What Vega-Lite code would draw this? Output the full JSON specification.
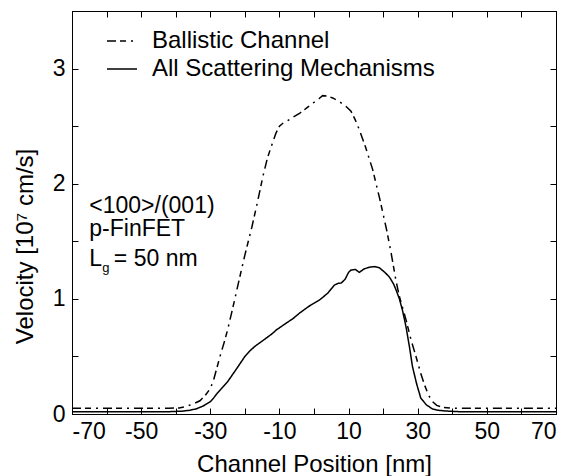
{
  "$schema": "https://vega.github.io/schema/vega-lite/v6.json",
  "width": 484,
  "height": 403,
  "autosize": "none",
  "padding": {"left": 72, "top": 11, "right": 13, "bottom": 62},
  "background": "white",
  "config": {
    "view": {"stroke": "black", "strokeWidth": 1},
    "font": "Liberation Sans",
    "axis": {
      "domainColor": "black",
      "domainWidth": 1,
      "tickColor": "black",
      "tickWidth": 1,
      "grid": false,
      "labelFont": "Liberation Sans",
      "labelFontSize": 23,
      "labelColor": "black",
      "titleFont": "Liberation Sans",
      "titleFontSize": 24,
      "titleFontWeight": "normal",
      "titleColor": "black"
    }
  },
  "datasets": {
    "curves": [
      {"x": -70, "v": 0.05, "s": "Ballistic Channel"},
      {"x": -60, "v": 0.05, "s": "Ballistic Channel"},
      {"x": -50, "v": 0.05, "s": "Ballistic Channel"},
      {"x": -42, "v": 0.05, "s": "Ballistic Channel"},
      {"x": -39, "v": 0.053, "s": "Ballistic Channel"},
      {"x": -37, "v": 0.065, "s": "Ballistic Channel"},
      {"x": -35, "v": 0.087, "s": "Ballistic Channel"},
      {"x": -33, "v": 0.115, "s": "Ballistic Channel"},
      {"x": -31.5, "v": 0.16, "s": "Ballistic Channel"},
      {"x": -30, "v": 0.22, "s": "Ballistic Channel"},
      {"x": -29, "v": 0.3, "s": "Ballistic Channel"},
      {"x": -28, "v": 0.41, "s": "Ballistic Channel"},
      {"x": -27, "v": 0.52, "s": "Ballistic Channel"},
      {"x": -26, "v": 0.62, "s": "Ballistic Channel"},
      {"x": -25, "v": 0.73, "s": "Ballistic Channel"},
      {"x": -23.5, "v": 0.92, "s": "Ballistic Channel"},
      {"x": -22, "v": 1.12, "s": "Ballistic Channel"},
      {"x": -20, "v": 1.38, "s": "Ballistic Channel"},
      {"x": -18, "v": 1.62, "s": "Ballistic Channel"},
      {"x": -16.5, "v": 1.82, "s": "Ballistic Channel"},
      {"x": -14.8, "v": 2.06, "s": "Ballistic Channel"},
      {"x": -13.5, "v": 2.22, "s": "Ballistic Channel"},
      {"x": -12.4, "v": 2.32, "s": "Ballistic Channel"},
      {"x": -11, "v": 2.44, "s": "Ballistic Channel"},
      {"x": -10, "v": 2.5, "s": "Ballistic Channel"},
      {"x": -9, "v": 2.525, "s": "Ballistic Channel"},
      {"x": -8, "v": 2.54, "s": "Ballistic Channel"},
      {"x": -6, "v": 2.58, "s": "Ballistic Channel"},
      {"x": -4.2, "v": 2.61, "s": "Ballistic Channel"},
      {"x": -2, "v": 2.66, "s": "Ballistic Channel"},
      {"x": -0.3, "v": 2.7, "s": "Ballistic Channel"},
      {"x": 1.5, "v": 2.74, "s": "Ballistic Channel"},
      {"x": 2.5, "v": 2.765, "s": "Ballistic Channel"},
      {"x": 4, "v": 2.76, "s": "Ballistic Channel"},
      {"x": 5.4, "v": 2.745, "s": "Ballistic Channel"},
      {"x": 7.5, "v": 2.71, "s": "Ballistic Channel"},
      {"x": 9.3, "v": 2.67, "s": "Ballistic Channel"},
      {"x": 10.7, "v": 2.63, "s": "Ballistic Channel"},
      {"x": 12, "v": 2.55, "s": "Ballistic Channel"},
      {"x": 13.1, "v": 2.47, "s": "Ballistic Channel"},
      {"x": 15, "v": 2.31, "s": "Ballistic Channel"},
      {"x": 17, "v": 2.12, "s": "Ballistic Channel"},
      {"x": 19, "v": 1.87, "s": "Ballistic Channel"},
      {"x": 21, "v": 1.6, "s": "Ballistic Channel"},
      {"x": 22.3, "v": 1.4, "s": "Ballistic Channel"},
      {"x": 23.7, "v": 1.16, "s": "Ballistic Channel"},
      {"x": 24.7, "v": 1.02, "s": "Ballistic Channel"},
      {"x": 26.6, "v": 0.82, "s": "Ballistic Channel"},
      {"x": 28.1, "v": 0.64, "s": "Ballistic Channel"},
      {"x": 29.5, "v": 0.5, "s": "Ballistic Channel"},
      {"x": 31, "v": 0.34, "s": "Ballistic Channel"},
      {"x": 32, "v": 0.25, "s": "Ballistic Channel"},
      {"x": 33.2, "v": 0.16, "s": "Ballistic Channel"},
      {"x": 34.3, "v": 0.107, "s": "Ballistic Channel"},
      {"x": 35.5, "v": 0.075, "s": "Ballistic Channel"},
      {"x": 37.2, "v": 0.058, "s": "Ballistic Channel"},
      {"x": 40, "v": 0.05, "s": "Ballistic Channel"},
      {"x": 50, "v": 0.05, "s": "Ballistic Channel"},
      {"x": 60, "v": 0.05, "s": "Ballistic Channel"},
      {"x": 70, "v": 0.05, "s": "Ballistic Channel"},
      {"x": -70, "v": 0.02, "s": "All Scattering Mechanisms"},
      {"x": -60, "v": 0.02, "s": "All Scattering Mechanisms"},
      {"x": -50, "v": 0.02, "s": "All Scattering Mechanisms"},
      {"x": -42, "v": 0.02, "s": "All Scattering Mechanisms"},
      {"x": -38, "v": 0.025, "s": "All Scattering Mechanisms"},
      {"x": -36, "v": 0.032, "s": "All Scattering Mechanisms"},
      {"x": -34, "v": 0.045, "s": "All Scattering Mechanisms"},
      {"x": -32, "v": 0.07, "s": "All Scattering Mechanisms"},
      {"x": -30, "v": 0.107, "s": "All Scattering Mechanisms"},
      {"x": -29, "v": 0.14, "s": "All Scattering Mechanisms"},
      {"x": -28, "v": 0.18, "s": "All Scattering Mechanisms"},
      {"x": -26.5, "v": 0.23, "s": "All Scattering Mechanisms"},
      {"x": -25, "v": 0.28, "s": "All Scattering Mechanisms"},
      {"x": -23.5, "v": 0.345, "s": "All Scattering Mechanisms"},
      {"x": -22, "v": 0.41, "s": "All Scattering Mechanisms"},
      {"x": -20, "v": 0.5, "s": "All Scattering Mechanisms"},
      {"x": -18.5, "v": 0.55, "s": "All Scattering Mechanisms"},
      {"x": -17, "v": 0.59, "s": "All Scattering Mechanisms"},
      {"x": -15.7, "v": 0.618, "s": "All Scattering Mechanisms"},
      {"x": -14, "v": 0.655, "s": "All Scattering Mechanisms"},
      {"x": -12, "v": 0.7, "s": "All Scattering Mechanisms"},
      {"x": -10.9, "v": 0.73, "s": "All Scattering Mechanisms"},
      {"x": -8, "v": 0.79, "s": "All Scattering Mechanisms"},
      {"x": -6, "v": 0.83, "s": "All Scattering Mechanisms"},
      {"x": -4.2, "v": 0.876, "s": "All Scattering Mechanisms"},
      {"x": -1.5, "v": 0.935, "s": "All Scattering Mechanisms"},
      {"x": 1.6, "v": 0.99, "s": "All Scattering Mechanisms"},
      {"x": 4, "v": 1.05, "s": "All Scattering Mechanisms"},
      {"x": 5.9, "v": 1.12, "s": "All Scattering Mechanisms"},
      {"x": 7, "v": 1.135, "s": "All Scattering Mechanisms"},
      {"x": 7.85, "v": 1.137, "s": "All Scattering Mechanisms"},
      {"x": 9, "v": 1.17, "s": "All Scattering Mechanisms"},
      {"x": 10, "v": 1.23, "s": "All Scattering Mechanisms"},
      {"x": 10.7, "v": 1.25, "s": "All Scattering Mechanisms"},
      {"x": 12, "v": 1.255, "s": "All Scattering Mechanisms"},
      {"x": 13.1, "v": 1.23, "s": "All Scattering Mechanisms"},
      {"x": 14.5, "v": 1.26, "s": "All Scattering Mechanisms"},
      {"x": 16, "v": 1.275, "s": "All Scattering Mechanisms"},
      {"x": 17.5, "v": 1.28, "s": "All Scattering Mechanisms"},
      {"x": 18.9, "v": 1.27, "s": "All Scattering Mechanisms"},
      {"x": 20.5, "v": 1.23, "s": "All Scattering Mechanisms"},
      {"x": 21.8, "v": 1.19, "s": "All Scattering Mechanisms"},
      {"x": 23, "v": 1.13, "s": "All Scattering Mechanisms"},
      {"x": 23.7, "v": 1.08, "s": "All Scattering Mechanisms"},
      {"x": 24.7, "v": 1.0, "s": "All Scattering Mechanisms"},
      {"x": 25.6, "v": 0.9, "s": "All Scattering Mechanisms"},
      {"x": 26.6, "v": 0.76, "s": "All Scattering Mechanisms"},
      {"x": 27.6, "v": 0.585, "s": "All Scattering Mechanisms"},
      {"x": 28.5, "v": 0.41, "s": "All Scattering Mechanisms"},
      {"x": 29.7, "v": 0.26, "s": "All Scattering Mechanisms"},
      {"x": 30.9, "v": 0.137, "s": "All Scattering Mechanisms"},
      {"x": 32.5, "v": 0.08, "s": "All Scattering Mechanisms"},
      {"x": 34.3, "v": 0.043, "s": "All Scattering Mechanisms"},
      {"x": 36, "v": 0.032, "s": "All Scattering Mechanisms"},
      {"x": 38.2, "v": 0.026, "s": "All Scattering Mechanisms"},
      {"x": 42, "v": 0.02, "s": "All Scattering Mechanisms"},
      {"x": 50, "v": 0.02, "s": "All Scattering Mechanisms"},
      {"x": 60, "v": 0.02, "s": "All Scattering Mechanisms"},
      {"x": 70, "v": 0.02, "s": "All Scattering Mechanisms"}
    ],
    "ann": [
      {"x": -65, "v": 1.745, "t": "<100>/(001)"},
      {"x": -65, "v": 1.548, "t": "p-FinFET"},
      {"x": -65, "v": 1.287, "t": "L"},
      {"x": -57.9, "v": 1.287, "t": "= 50 nm"}
    ],
    "sub": [
      {"x": -61.25, "v": 1.235, "t": "g"}
    ]
  },
  "layer": [
    {
      "data": {"name": "curves"},
      "mark": {"type": "line", "stroke": "black", "strokeWidth": 1.5},
      "encoding": {
        "x": {
          "field": "x", "type": "quantitative",
          "scale": {"domain": [-70, 70], "nice": false, "zero": false},
          "axis": {
            "orient": "bottom",
            "values": [-70, -60, -50, -40, -30, -20, -10, 0, 10, 20, 30, 40, 50, 60, 70],
            "labelExpr": "datum.value % 20 != 0 ? '' + datum.value : ''",
            "tickSize": -6,
            "labelPadding": 12,
            "labelAngle": 0,
            "title": "Channel Position [nm]",
            "titleY": 57,
            "titleBaseline": "alphabetic"
          }
        },
        "y": {
          "field": "v", "type": "quantitative",
          "scale": {"domain": [0, 3.5], "nice": false, "zero": false},
          "axis": {
            "orient": "left",
            "values": [0, 0.5, 1, 1.5, 2, 2.5, 3, 3.5],
            "labelExpr": "datum.value % 1 == 0 && datum.value < 3.5 ? '' + datum.value : ''",
            "tickSize": -6,
            "labelPadding": 13,
            "title": "Velocity [10⁷ cm/s]",
            "titleX": -40,
            "titleY": 235,
            "titleAlign": "center",
            "titleBaseline": "alphabetic"
          }
        },
        "strokeDash": {
          "field": "s", "type": "nominal",
          "scale": {
            "domain": ["Ballistic Channel", "All Scattering Mechanisms"],
            "range": [[9, 4, 6, 5, 2, 5], [1, 0]]
          },
          "legend": {
            "orient": "none",
            "legendX": 34,
            "legendY": 14,
            "title": null,
            "symbolType": "stroke",
            "symbolSize": 900,
            "symbolStrokeWidth": 1.5,
            "symbolStrokeColor": "black",
            "labelFont": "Liberation Sans",
            "labelFontSize": 24,
            "labelColor": "black",
            "labelOffset": 14,
            "rowPadding": 0,
            "padding": 0,
            "labelLimit": 400
          }
        }
      }
    },
    {
      "data": {"name": "ann"},
      "mark": {"type": "text", "align": "left", "baseline": "alphabetic", "fontSize": 23, "font": "Liberation Sans", "color": "black"},
      "encoding": {
        "x": {
          "field": "x", "type": "quantitative",
          "scale": {"domain": [-70, 70], "nice": false, "zero": false},
          "axis": {
            "orient": "top",
            "values": [-70, -60, -50, -40, -30, -20, -10, 0, 10, 20, 30, 40, 50, 60, 70],
            "labels": false,
            "tickSize": -6,
            "title": null
          }
        },
        "y": {
          "field": "v", "type": "quantitative",
          "scale": {"domain": [0, 3.5], "nice": false, "zero": false},
          "axis": {
            "orient": "right",
            "values": [0, 0.5, 1, 1.5, 2, 2.5, 3, 3.5],
            "labels": false,
            "tickSize": -6,
            "title": null
          }
        },
        "text": {"field": "t"}
      }
    },
    {
      "data": {"name": "sub"},
      "mark": {"type": "text", "align": "left", "baseline": "alphabetic", "fontSize": 13, "font": "Liberation Sans", "color": "black"},
      "encoding": {
        "x": {"field": "x", "type": "quantitative", "axis": null},
        "y": {"field": "v", "type": "quantitative", "axis": null},
        "text": {"field": "t"}
      }
    }
  ],
  "resolve": {"axis": {"x": "independent", "y": "independent"}}
}
